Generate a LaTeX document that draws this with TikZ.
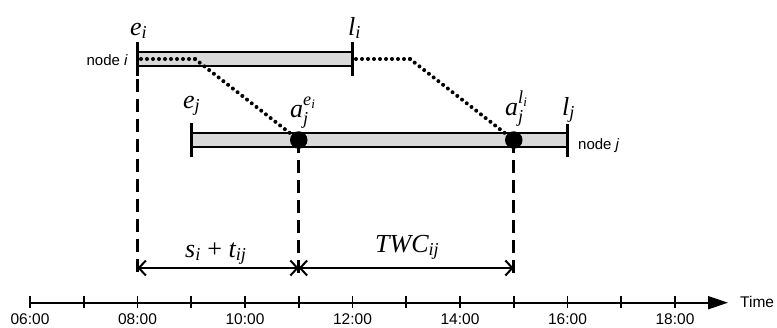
\documentclass[tikz,border=0pt]{standalone}
\usepackage{amsmath}
\usepackage{fontspec}
\setmainfont{Liberation Serif}
\newfontfamily\sansf{Liberation Sans}
\usetikzlibrary{arrows.meta,decorations.markings}
\newcommand{\tv}[1]{\text{\itshape #1}}
\begin{document}
\begin{tikzpicture}[x=1pt,y=-1pt,
  bar/.style={draw=black,line width=1.2pt,fill=black!15},
  endtick/.style={line width=2.5pt},
  dotline/.style={decoration={markings,mark=between positions 0 and 1 step 6pt with {\fill[black] (0,0) circle (2pt);}},decorate},
  dashline/.style={line width=2.7pt,dash pattern=on 13pt off 7pt},
  bigdot/.style={circle,fill=black,inner sep=0pt,minimum size=17.5pt},
  mlabel/.style={inner sep=0pt,anchor=base west,font=\fontsize{26}{29}\selectfont},
  nlabel/.style={inner sep=0pt,font=\sansf\fontsize{15}{17}\selectfont},
  tlabel/.style={inner sep=0pt,anchor=base,font=\sansf\fontsize{15.5}{17}\selectfont},
  dimarrow/.style={line width=2pt,{Straight Barb[length=7pt,width=15pt]}-{Straight Barb[length=7pt,width=15pt]}}
]
\useasboundingbox (0,0) rectangle (777,327);
% bars
\draw[bar] (137.5,52) rectangle (352.5,66);
\draw[bar] (191.25,133) rectangle (567.5,147);
% end ticks
\coordinate (eiT) at (137.5,42); \coordinate (eiB) at (137.5,76);
\coordinate (liT) at (352.5,42); \coordinate (liB) at (352.5,76);
\coordinate (ejT) at (191.25,123); \coordinate (ejB) at (191.25,157);
\coordinate (ljT) at (567.5,124); \coordinate (ljB) at (567.5,157);
\draw[endtick] (eiT) -- (eiB);
\draw[endtick] (liT) -- (liB);
\draw[endtick] (ejT) -- (ejB);
\draw[endtick] (ljT) -- (ljB);
% dot positions
\coordinate (d1) at (298.75,140);
\coordinate (d2) at (513.75,140);
\coordinate (p1) at (141,59); \coordinate (k1) at (195,59);
\coordinate (p2) at (356,59); \coordinate (k2) at (410,59);
\path[dotline] (p1) -- (k1);
\path[dotline] (k1) -- (d1);
\path[dotline] (p2) -- (k2);
\path[dotline] (k2) -- (d2);
% dashed verticals
\coordinate (eiD) at (137.5,79); \coordinate (eiE) at (137.5,277);
\coordinate (d1E) at (298.75,277); \coordinate (d2E) at (513.75,277);
\draw[dashline] (eiD) -- (eiE);
\draw[dashline] (d1) -- (d1E);
\draw[dashline] (d2) -- (d2E);
\node[bigdot] (n1) at (d1) {};
\node[bigdot] (n2) at (d2) {};
% dimension arrows
\coordinate (A0) at (137.5,268); \coordinate (A1) at (298.75,268); \coordinate (A2) at (513.75,268);
\draw[dimarrow] (A0) -- (A1);
\draw[dimarrow] (A1) -- (A2);
% labels
\node[mlabel] (Lei) at (130,35) {$\tv{e}_{\tv{i}}$};
\node[mlabel] (Lli) at (348,35) {$\tv{l}_{\tv{i}}$};
\node[mlabel] (Lej) at (183,108) {$\tv{e}_{\tv{j}}$};
\node[mlabel] (Lae) at (290,117) {$\tv{a}_{\tv{j}}^{\tv{e}_{\tv{i}}}$};
\node[mlabel] (Lal) at (505,115) {$\tv{a}_{\tv{j}}^{\tv{l}_{\tv{i}}}$};
\node[mlabel] (Llj) at (562,115) {$\tv{l}_{\tv{j}}$};
\node[mlabel] (Lst) at (185,257) {$\tv{s}_{\tv{i}}\text{ + }\tv{t}_{\tv{ij}}$};
\node[mlabel] (Ltwc) at (375,252) {$\tv{TWC}_{\tv{ij}}$};
\node[nlabel,anchor=east] (ni) at (128,60) {node \textit{i}};
\node[nlabel,anchor=west] (nj) at (578,146) {node \textit{j}};
% time axis
\coordinate (ax0) at (30,302.7); \coordinate (ax1) at (728,302.7);
\draw[line width=2pt,-{Triangle[length=20pt,width=13pt]}] (ax0) -- (ax1);
\foreach \h in {0,...,12} {
  \draw[line width=1.6pt] ({30+53.75*\h},296) -- ({30+53.75*\h},308);
}
\foreach \h/\t in {0/06:00,2/08:00,4/10:00,6/12:00,8/14:00,10/16:00,12/18:00} {
  \node[tlabel] at ({30+53.75*\h},324) {\t};
}
\node[tlabel,anchor=base west] (time) at (740,307) {Time};
\end{tikzpicture}
\end{document}
